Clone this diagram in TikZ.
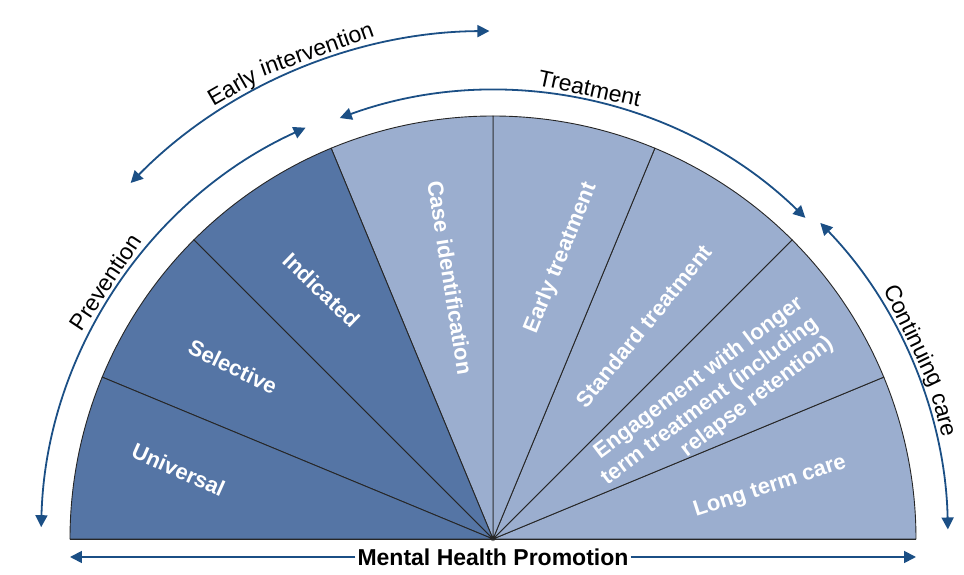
\documentclass[tikz,border=0pt]{standalone}
\usepackage{fontspec}
\setmainfont{Liberation Sans}
\usetikzlibrary{arrows.meta}

\definecolor{darkpart}{RGB}{85,117,165}
\definecolor{lightpart}{RGB}{155,174,207}
\definecolor{arrowblue}{RGB}{27,79,133}

\newcommand{\seclabelfont}{\fontsize{22}{25}\selectfont\bfseries}
\newcommand{\arclabelfont}{\fontsize{23}{27}\selectfont}

\tikzset{
  sector/.style={draw=black!85, line width=0.9pt},
  seclabel/.style={text=white, font=\seclabelfont, inner sep=0pt},
  arclabel/.style={font=\arclabelfont, inner sep=0pt, anchor=base},
  arcarrow/.style={draw=arrowblue, line width=1.8pt,
    {Triangle[length=12pt,width=12pt]}-{Triangle[length=12pt,width=12pt]}},
  onearrow/.style={draw=arrowblue, line width=1.8pt, -{Triangle[length=12pt,width=12pt]}}
}

\begin{document}
\begin{tikzpicture}[x=1pt,y=1pt]
\useasboundingbox (-493,-36) rectangle (471,539);
\coordinate (origin) at (0,0);
% Draw sectors
\foreach \i/\col in {0/lightpart,1/lightpart,2/lightpart,3/lightpart,4/lightpart,5/darkpart,6/darkpart,7/darkpart}{
  \pgfmathsetmacro{\a}{22.5*\i}
  \draw[sector, fill=\col] (origin) -- (\a:423) arc[start angle=\a, delta angle=22.5, radius=423] -- cycle;
}
\draw[sector] (-423,0) -- (423,0);
% Sector labels
\node[seclabel, rotate=-24] (universal) at (167.6:322) {Universal};
\node[seclabel, rotate=-26] (selective) at (146.5:312) {Selective};
\node[seclabel, rotate=-44] (indicated) at (124.5:302) {Indicated};
\node[seclabel, rotate=-81] (caseid) at (99.3:265) {Case identification};
\node[seclabel, rotate=68] (earlytreat) at (76.4:289) {Early treatment};
\node[seclabel, rotate=51] (standard) at (54.7:261) {Standard treatment};
\node[seclabel, rotate=37, align=right] (engage) at (32.4:257)
  {Engagement with longer\\term treatment (including\\relapse retention)};
\node[seclabel, rotate=18] (longterm) at (10.6:282) {Long term care};
% Outer arcs
\draw[arcarrow] (178.5:452) arc[start angle=178.5, end angle=114.5, radius=452];
\draw[arcarrow] (135.5:508) arc[start angle=135.5, end angle=90.4, radius=508];
\draw[arcarrow] (110:448) arc[start angle=110, end angle=45.8, radius=448];
\draw[arcarrow] (44:455) arc[start angle=44, end angle=1.2, radius=455];
% Arc labels (word by word, following the arcs)
\node[arclabel, rotate=56.5] (prevention) at (146.5:457) {Prevention};
\node[arclabel, rotate=30.0] (earlyword) at (120.0:514) {Early};
\node[arclabel, rotate=19.8] (interventionword) at (109.8:513) {intervention};
\node[arclabel, rotate=-12.1] (treatment) at (77.9:453) {Treatment};
\node[arclabel, rotate=-64.2] (continuingword) at (25.8:460) {Continuing};
\node[arclabel, rotate=-74.6] (careword) at (15.4:461) {care};
% Mental health promotion
\node[font=\arclabelfont\bfseries, inner sep=2pt] (mhp) at (0,-18) {Mental Health Promotion};
\coordinate (mhpleft) at (-423,-18);
\coordinate (mhpright) at (423,-18);
\draw[onearrow] (mhp.west) -- (mhpleft);
\draw[onearrow] (mhp.east) -- (mhpright);
\end{tikzpicture}
\end{document}
